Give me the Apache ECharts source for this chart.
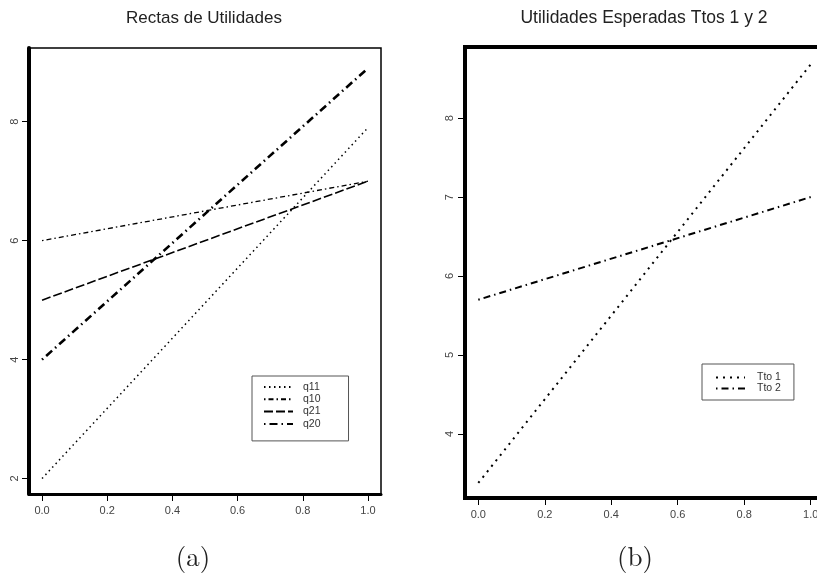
<!DOCTYPE html>
<html>
<head>
<meta charset="utf-8">
<script src="https://cdn.jsdelivr.net/npm/echarts@6/dist/echarts.min.js"></script>
<style>
html,body{margin:0;padding:0;background:#fff;}
#c{width:817px;height:581px;}
</style>
</head>
<body>
<div id="c"></div>
<script>
// Panel (a): Rectas de Utilidades (x = p, lines from p=0 to p=1)
const pA = [0, 1];
const q11 = [2.0, 7.9];
const q10 = [6.0, 7.0];
const q21 = [5.0, 7.0];
const q20 = [4.0, 8.9];
const xTicksA = [0, 0.2, 0.4, 0.6, 0.8, 1.0];
const yTicksA = [2, 4, 6, 8];

// Panel (b): Utilidades Esperadas Ttos 1 y 2
const pB = [0, 1];
const tto1 = [3.38, 8.68];
const tto2 = [5.70, 7.00];
const xTicksB = [0, 0.2, 0.4, 0.6, 0.8, 1.0];
const yTicksB = [4, 5, 6, 7, 8];

const titles = ['Rectas de Utilidades', 'Utilidades Esperadas Ttos 1 y 2'];
const captions = ['(a)', '(b)'];

const pts = (xs, ys) => xs.map((x, i) => [x, ys[i]]);
const FONT = 'Liberation Sans, Arial, sans-serif';
const SERIF = 'Latin Modern Roman, Liberation Serif, DejaVu Serif, serif';

function xAxisFor(gi, ticks, lineW) {
  return {
    type: 'value', gridIndex: gi, min: -0.04, max: 1.04,
    axisLine: { show: true, onZero: false, lineStyle: { color: '#000', width: lineW } },
    axisTick: { show: true, length: 7, customValues: ticks, lineStyle: { color: '#000', width: 1 } },
    axisLabel: { customValues: ticks, margin: 11, fontSize: 11, color: '#444', fontFamily: FONT,
      formatter: v => v.toFixed(1) },
    splitLine: { show: false }
  };
}
function yAxisFor(gi, ticks, min, max, lineW, margin) {
  return {
    type: 'value', gridIndex: gi, min: min, max: max,
    axisLine: { show: true, onZero: false, lineStyle: { color: '#000', width: lineW } },
    axisTick: { show: true, length: 7, customValues: ticks, lineStyle: { color: '#000', width: 1 } },
    axisLabel: { customValues: ticks, margin: margin, rotate: 90, fontSize: 11, color: '#444', fontFamily: FONT,
      formatter: v => String(v) },
    splitLine: { show: false }
  };
}
function lineSeries(name, gi, data, width, type) {
  return {
    name: name, type: 'line', xAxisIndex: gi, yAxisIndex: gi,
    data: data, symbol: 'none', silent: true, animation: false,
    itemStyle: { color: '#000' },
    lineStyle: { color: '#000', width: width, type: type, cap: 'butt' }
  };
}
const legendBase = {
  orient: 'vertical', itemWidth: 29, itemHeight: 8,
  borderColor: '#555', borderWidth: 1, backgroundColor: '#fff',
  selectedMode: false,
  itemStyle: { color: 'rgba(0,0,0,0)', borderColor: 'rgba(0,0,0,0)', borderWidth: 0 }
};

const chart = echarts.init(document.getElementById('c'), null, { renderer: 'canvas' });
chart.setOption({
  animation: false,
  backgroundColor: '#fff',
  title: [
    { text: titles[0], left: 199, top: 5, textAlign: 'center',
      textStyle: { fontSize: 17, fontWeight: 'normal', color: '#222', fontFamily: FONT } },
    { text: titles[1], left: 639, top: 4, textAlign: 'center',
      textStyle: { fontSize: 17.5, fontWeight: 'normal', color: '#222', fontFamily: FONT } },
    { text: captions[0], left: 188, top: 539, textAlign: 'center',
      textStyle: { fontSize: 27, fontWeight: 'normal', color: '#222', fontFamily: SERIF } },
    { text: captions[1], left: 630, top: 539, textAlign: 'center',
      textStyle: { fontSize: 27, fontWeight: 'normal', color: '#222', fontFamily: SERIF } }
  ],
  grid: [
    { left: 29, width: 352, top: 48, height: 446, outerBoundsMode: 'none', containLabel: false,
      show: true, borderColor: '#000', borderWidth: 1.5, backgroundColor: 'transparent' },
    { left: 465, width: 359, top: 47, height: 451, outerBoundsMode: 'none', containLabel: false,
      show: true, borderColor: '#000', borderWidth: 4, backgroundColor: 'transparent' }
  ],
  xAxis: [ xAxisFor(0, xTicksA, 3), xAxisFor(1, xTicksB, 4) ],
  yAxis: [ yAxisFor(0, yTicksA, 1.74, 9.24, 4, 9), yAxisFor(1, yTicksB, 3.19, 8.90, 4, 10) ],
  legend: [
    Object.assign({}, legendBase, {
      data: ['q11', 'q10', 'q21', 'q20'], left: 252, top: 376,
      itemGap: 0.3, padding: [5, 28, 11, 11],
      textStyle: { fontSize: 10.5, lineHeight: 12, color: '#333', fontFamily: FONT, padding: [0, 0, 0, 5] } }),
    Object.assign({}, legendBase, {
      data: ['Tto 1', 'Tto 2'], left: 702, top: 364,
      itemGap: 0, padding: [8, 13, 6, 13],
      textStyle: { fontSize: 10.5, lineHeight: 10.6, color: '#333', fontFamily: FONT, padding: [0, 0, 0, 7] } })
  ],
  series: [
    lineSeries('q11', 0, pts(pA, q11), 1.5, [1.5, 3.5]),
    lineSeries('q10', 0, pts(pA, q10), 1.3, [1.5, 3, 5, 3]),
    lineSeries('q21', 0, pts(pA, q21), 1.6, [9, 3]),
    lineSeries('q20', 0, pts(pA, q20), 2.6, [1.5, 4, 8, 4]),
    lineSeries('Tto 1', 1, pts(pB, tto1), 2, [2, 5]),
    lineSeries('Tto 2', 1, pts(pB, tto2), 2, [1.5, 4, 7, 4])
  ]
});
</script>
</body>
</html>
